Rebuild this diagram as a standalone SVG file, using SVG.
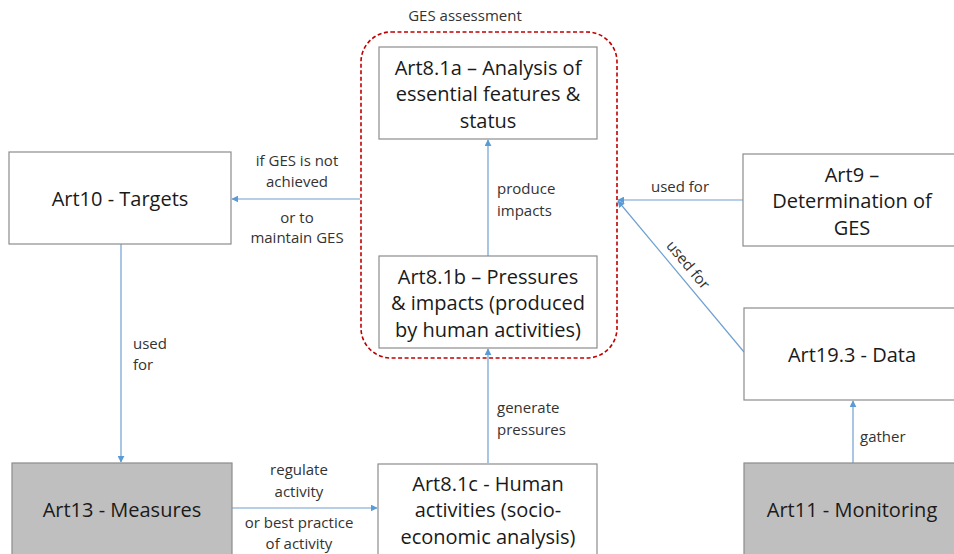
<svg xmlns="http://www.w3.org/2000/svg" width="954" height="554" viewBox="0 0 954 554">
<defs>
<marker id="ah" viewBox="0 0 10 10" refX="9" refY="5" markerWidth="7" markerHeight="7" orient="auto" markerUnits="userSpaceOnUse">
<path d="M0,0 L10,5 L0,10 z" fill="#5b9bd5"/>
</marker>
<style>
.box{fill:#fff;stroke:#8c8c8c;stroke-width:1.2}
.gray{fill:#bfbfbf;stroke:#8c8c8c;stroke-width:1.2}
.nt{font-family:"Open Sans","Liberation Sans",sans-serif;font-size:20px;fill:#1a1a1a;text-anchor:middle}
.lt{font-family:"Open Sans","Liberation Sans",sans-serif;font-size:15px;fill:#333}
.mid{text-anchor:middle}
.cn{stroke:#6fa0d0;stroke-width:1.2;fill:none;marker-end:url(#ah)}
</style>
</defs>
<rect width="954" height="554" fill="#fff"/>
<g id="ges">
<rect x="361" y="32" width="256" height="326" rx="30" fill="none" stroke="#c00000" stroke-width="1.6" stroke-dasharray="4,2.5"/>
<text class="lt mid" x="465" y="21">GES assessment</text>
</g>
<g id="connectors">
<line class="cn" x1="488" y1="256" x2="488" y2="140"/>
<line class="cn" x1="488" y1="463" x2="488" y2="349"/>
<line class="cn" x1="360" y1="199" x2="232" y2="199"/>
<line class="cn" x1="121" y1="244" x2="121" y2="462"/>
<line class="cn" x1="232" y1="508" x2="377" y2="508"/>
<line class="cn" x1="743" y1="200" x2="618" y2="200"/>
<line class="cn" x1="744" y1="352" x2="618" y2="201"/>
<line class="cn" x1="853" y1="463" x2="853" y2="401"/>
</g>
<g id="labels">
<text class="lt" x="497" y="194">produce</text>
<text class="lt" x="497" y="216">impacts</text>
<text class="lt" x="497" y="413">generate</text>
<text class="lt" x="497" y="435">pressures</text>
<text class="lt mid" x="297" y="166">if GES is not</text>
<text class="lt mid" x="297" y="187">achieved</text>
<text class="lt mid" x="297" y="223">or to</text>
<text class="lt mid" x="297" y="243">maintain GES</text>
<text class="lt" x="133" y="349">used</text>
<text class="lt" x="133" y="370">for</text>
<text class="lt mid" x="299" y="475">regulate</text>
<text class="lt mid" x="299" y="497">activity</text>
<text class="lt mid" x="299" y="528">or best practice</text>
<text class="lt mid" x="299" y="549">of activity</text>
<text class="lt mid" x="680" y="192">used for</text>
<text class="lt mid" transform="translate(688,265) rotate(50)" x="0" y="5">used for</text>
<text class="lt" x="860" y="442">gather</text>
</g>
<g id="art81a">
<rect class="box" x="379" y="47" width="218" height="92"/>
<text class="nt" x="488" y="75">Art8.1a – Analysis of</text>
<text class="nt" x="488" y="101">essential features &amp;</text>
<text class="nt" x="488" y="128">status</text>
</g>
<g id="art81b">
<rect class="box" x="379" y="256" width="218" height="92"/>
<text class="nt" x="488" y="284">Art8.1b – Pressures</text>
<text class="nt" x="488" y="310">&amp; impacts (produced</text>
<text class="nt" x="488" y="337">by human activities)</text>
</g>
<g id="art81c">
<rect class="box" x="378" y="464" width="219" height="95"/>
<text class="nt" x="488" y="491">Art8.1c - Human</text>
<text class="nt" x="488" y="517">activities (socio-</text>
<text class="nt" x="488" y="544">economic analysis)</text>
</g>
<g id="art10">
<rect class="box" x="9" y="152" width="222" height="92"/>
<text class="nt" x="120" y="206">Art10 - Targets</text>
</g>
<g id="art13">
<rect class="gray" x="12" y="463" width="220" height="96"/>
<text class="nt" x="122" y="517">Art13 - Measures</text>
</g>
<g id="art9">
<rect class="box" x="743" y="154" width="215" height="92"/>
<text class="nt" x="852" y="182">Art9 –</text>
<text class="nt" x="852" y="208">Determination of</text>
<text class="nt" x="852" y="235">GES</text>
</g>
<g id="art193">
<rect class="box" x="744" y="308" width="214" height="92"/>
<text class="nt" x="852" y="362">Art19.3 - Data</text>
</g>
<g id="art11">
<rect class="gray" x="744" y="463" width="214" height="96"/>
<text class="nt" x="852" y="517">Art11 - Monitoring</text>
</g>
</svg>
